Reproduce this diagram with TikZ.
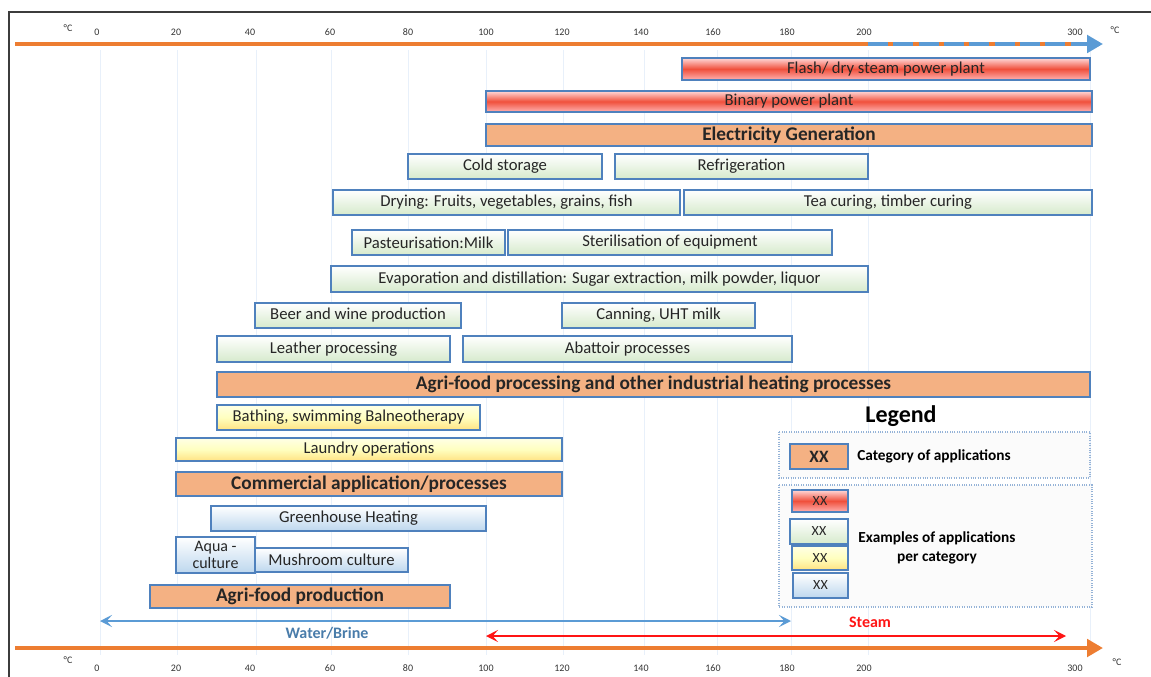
\documentclass[tikz,border=0pt]{standalone}
\usepackage{fontspec}
\setmainfont{Carlito}
\usetikzlibrary{arrows.meta}

\definecolor{framegray}{RGB}{60,60,60}
\definecolor{axisorange}{RGB}{237,125,49}
\definecolor{axisblue}{RGB}{91,155,213}
\definecolor{steamred}{RGB}{255,20,20}
\definecolor{boxedge}{RGB}{79,129,189}
\definecolor{catfill}{RGB}{244,177,131}
\definecolor{gridblue}{RGB}{232,240,250}
\definecolor{greenlow}{RGB}{214,234,204}
\definecolor{bluelow}{RGB}{189,215,238}
\definecolor{yellowlow}{RGB}{255,226,130}
\definecolor{redmid}{RGB}{240,80,60}

\tikzset{
    appbox/.style={draw=boxedge, line width=0.8pt, inner sep=0pt, text=black!85,
        font=\fontsize{12.5}{13.5}\selectfont, align=center},
    greenbox/.style={appbox, top color=white, bottom color=greenlow},
    bluebox/.style={appbox, top color=white, bottom color=bluelow},
    yellowbox/.style={appbox, top color=white!90!yellow, bottom color=yellowlow, middle color=yellow!25},
    redbox/.style={appbox, top color=red!15, bottom color=red!30, middle color=redmid},
    catbox/.style={appbox, fill=catfill, font=\bfseries\fontsize{14.5}{15}\selectfont},
    ticklabel/.style={font=\fontsize{7.5}{8}\selectfont, text=black!80, inner sep=0pt},
    legendframe/.style={draw=boxedge!60, densely dotted, line width=0.8pt, fill=gray!3},
    legendtext/.style={font=\bfseries\fontsize{11.5}{14}\selectfont, align=center, inner sep=0pt},
    keybox/.style={minimum width=42pt, font=\fontsize{10.5}{11}\selectfont}
}

\begin{document}
\begin{tikzpicture}[x=0.75pt, y=-0.75pt]
    \useasboundingbox (0,0) rectangle (1151,677);

    % frame
    \draw[framegray, line width=1.2pt] (9,677) -- (9,12) -- (1151,12);

    % vertical grid
    \foreach \gx in {100,177,256,331,408,486,563,644,717,791,868,1090}
        \draw[gridblue, line width=0.7pt] (\gx,50) -- (\gx,655);

    % top axis
    \coordinate (topstart) at (15,44);
    \coordinate (topmid) at (868,44);
    \coordinate (topend) at (1103,44);
    \draw[axisorange, line width=3pt] (topstart) -- (topmid);
    \draw[axisorange, line width=3pt] (topmid) -- (1088,44);
    \draw[axisblue, line width=3pt, dash pattern=on 15pt off 4pt] (topmid) -- (1088,44);
    \draw[axisblue, line width=3pt, -{Triangle[length=12pt, width=13pt]}] (1080,44) -- (topend);

    \foreach \tx/\tl in {97/0,176/20,250/40,330/60,408/80,486/100,562/120,641/140,713/160,787/180,864/200,1075/300}
        \node[ticklabel] (top\tl) at (\tx,32) {\tl};
    \node[ticklabel] (topunitl) at (68,28) {°C};
    \node[ticklabel] (topunitr) at (1115,30) {°C};

    % electricity
    \node[redbox, minimum width=306pt, minimum height=16.5pt] (flash) at (886,69) {Flash/ dry steam power plant};
    \node[redbox, minimum width=454.5pt, minimum height=15.75pt] (binary) at (789,101.5) {Binary power plant};
    \node[catbox, minimum width=454.5pt, minimum height=16.5pt] (elec) at (789,135) {Electricity Generation};

    % industrial heating
    \node[greenbox, minimum width=145.5pt, minimum height=18.75pt] (cold) at (505,166.5) {Cold storage};
    \node[greenbox, minimum width=189.75pt, minimum height=18.75pt] (refrig) at (741.5,166.5) {Refrigeration};
    \node[greenbox, minimum width=260.25pt, minimum height=18.75pt] (drying) at (506.5,202.5) {Drying: Fruits, vegetables, grains, fish};
    \node[greenbox, minimum width=306pt, minimum height=18.75pt] (tea) at (888,202.5) {Tea curing, timber curing};
    \node[greenbox, minimum width=114.75pt, minimum height=18.75pt] (pasteur) at (428.5,242.5) {Pasteurisation:Milk};
    \node[greenbox, minimum width=243pt, minimum height=18.75pt] (steril) at (670,242.5) {Sterilisation of equipment};
    \node[greenbox, minimum width=402.75pt, minimum height=19.5pt] (evap) at (599.5,279) {Evaporation and distillation: Sugar extraction, milk powder, liquor};
    \node[greenbox, minimum width=154.5pt, minimum height=18.75pt] (beer) at (358,315.5) {Beer and wine production};
    \node[greenbox, minimum width=144.75pt, minimum height=18.75pt] (canning) at (658.5,315.5) {Canning, UHT milk};
    \node[greenbox, minimum width=174.75pt, minimum height=19.5pt] (leather) at (333.5,349) {Leather processing};
    \node[greenbox, minimum width=246.75pt, minimum height=19.5pt] (abattoir) at (627.5,349) {Abattoir processes};
    \node[catbox, minimum width=654.75pt, minimum height=18.75pt] (agriproc) at (653.5,384.5) {Agri-food processing and other industrial heating processes};

    % commercial
    \node[yellowbox, minimum width=197.25pt, minimum height=18.75pt] (bathing) at (348.5,417.5) {Bathing, swimming Balneotherapy};
    \node[yellowbox, minimum width=289.5pt, minimum height=17.25pt] (laundry) at (369,449.5) {Laundry operations};
    \node[catbox, minimum width=289.5pt, minimum height=18pt] (commercial) at (369,484) {Commercial application/processes};

    % agri-food
    \node[bluebox, minimum width=206.25pt, minimum height=18.75pt] (greenhouse) at (348.5,518.5) {Greenhouse Heating};
    \node[bluebox, minimum width=59.25pt, minimum height=27pt, font=\fontsize{12}{12.5}\selectfont] (aqua) at (215.5,555) {Aqua -\\culture};
    \node[bluebox, minimum width=114.75pt, minimum height=18pt] (mushroom) at (331.5,560) {Mushroom culture};
    \node[catbox, minimum width=225pt, minimum height=17.25pt] (agriprod) at (300,596.5) {Agri-food production};

    % legend
    \node[font=\bfseries\fontsize{18}{20}\selectfont, inner sep=0pt] (legend) at (901,416) {Legend};
    \draw[legendframe] (779,432) rectangle (1090,478);
    \draw[legendframe] (779,485) rectangle (1092,607);
    \node[catbox, minimum width=43.5pt, minimum height=18.75pt, font=\bfseries\fontsize{13}{14}\selectfont] (keycat) at (819,456.5) {XX};
    \node[legendtext] (keycattext) at (934,456) {Category of applications};
    \node[redbox, keybox, minimum height=16.5pt] (keyred) at (820,501) {XX};
    \node[greenbox, keybox, minimum width=43.5pt, minimum height=18.75pt] (keygreen) at (819,531.5) {XX};
    \node[yellowbox, keybox, minimum height=18pt] (keyyellow) at (820,558) {XX};
    \node[bluebox, keybox, minimum width=41.25pt, minimum height=18.75pt] (keyblue) at (820.5,585.5) {XX};
    \node[legendtext] (keyapptext) at (937,548) {Examples of applications\\per category};

    % bottom axis and fluid ranges
    \coordinate (waterlo) at (100,621);
    \coordinate (waterhi) at (791,621);
    \coordinate (steamlo) at (486,636);
    \coordinate (steamhi) at (1066,636);
    \coordinate (botstart) at (15,648);
    \coordinate (botend) at (1103,648);
    \draw[axisblue, line width=1.5pt, {Stealth[length=9pt, width=9pt, inset=4pt]}-{Stealth[length=9pt, width=9pt, inset=4pt]}] (waterlo) -- (waterhi);
    \draw[steamred, line width=1.5pt, {Stealth[length=9pt, width=9pt, inset=4pt]}-{Stealth[length=9pt, width=9pt, inset=4pt]}] (steamlo) -- (steamhi);
    \draw[axisorange, line width=3pt, -{Triangle[length=12pt, width=13pt]}] (botstart) -- (botend);
    \node[font=\bfseries\fontsize{12}{13}\selectfont, text=axisblue!80!black, inner sep=0pt] (water) at (327,633) {Water/Brine};
    \node[font=\bfseries\fontsize{12}{13}\selectfont, text=steamred, inner sep=0pt] (steam) at (870,622) {Steam};

    \foreach \tx/\tl in {97/0,176/20,250/40,330/60,408/80,486/100,562/120,641/140,713/160,787/180,864/200,1075/300}
        \node[ticklabel] (bot\tl) at (\tx,668) {\tl};
    \node[ticklabel] (botunitl) at (68,660) {°C};
    \node[ticklabel] (botunitr) at (1117,662) {°C};
\end{tikzpicture}
\end{document}
